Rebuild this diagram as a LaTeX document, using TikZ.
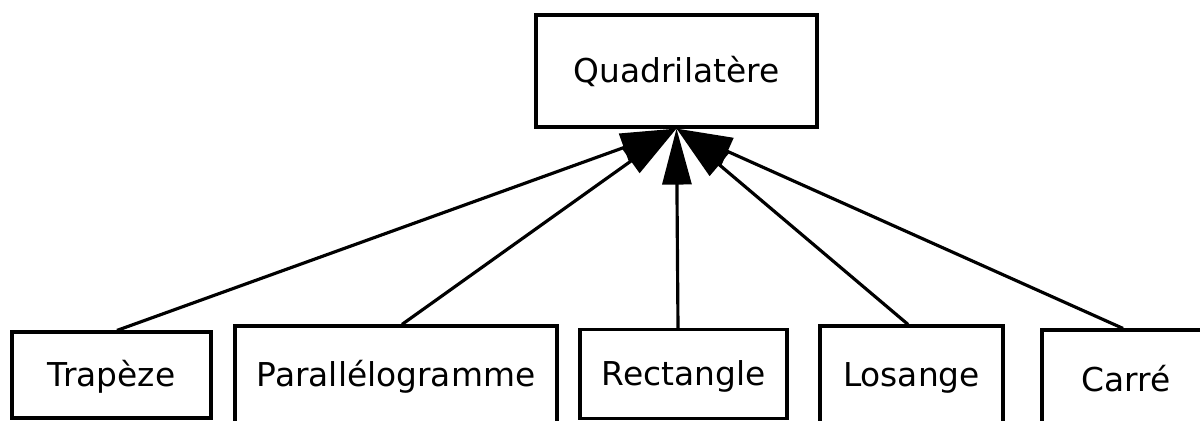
\documentclass[tikz,border=0pt]{standalone}
\usepackage{fontspec}
\usepackage{tikz}
\usetikzlibrary{arrows.meta}
\newfontfamily\diagfont{DejaVu Sans}

\begin{document}
\begin{tikzpicture}[x=0.02cm,y=-0.02cm,line width=1.8pt,
  box/.style={draw,rectangle,inner sep=0pt,
    font=\diagfont\fontsize{18.7pt}{22pt}\selectfont,
    text height=13.6pt,text depth=0pt},
  herit/.style={-{Triangle[length=1.12cm,width=0.58cm]}}]
  \useasboundingbox (0,0) rectangle (1200,421);

  %parent
  \node[box,minimum width=5.62cm,minimum height=2.24cm] (quad) at (676.5,71) {Quadrilatère};

  %children
  \node[box,minimum width=3.98cm,minimum height=1.72cm] (trap) at (111.5,375) {Trapèze};
  \node[box,minimum width=6.44cm,minimum height=1.96cm] (para) at (396,375) {Parallélogramme};
  \node[box,minimum width=4.14cm,minimum height=1.78cm] (rect) at (683.5,374) {Rectangle};
  \node[box,minimum width=3.66cm,minimum height=1.96cm] (los) at (911.5,375) {Losange};
  \node[box,minimum width=3.36cm,minimum height=2cm] (carre) at (1126,380) {Carré};

  %arrows
  \draw[herit] ([xshift=0.11cm]trap.north) -- (quad.south);
  \draw[herit] ([xshift=0.12cm]para.north) -- (quad.south);
  \draw[herit] ([xshift=-0.11cm]rect.north) -- (quad.south);
  \draw[herit] ([xshift=-0.07cm]los.north) -- (quad.south);
  \draw[herit] ([xshift=-0.06cm]carre.north) -- (quad.south);
\end{tikzpicture}
\end{document}
